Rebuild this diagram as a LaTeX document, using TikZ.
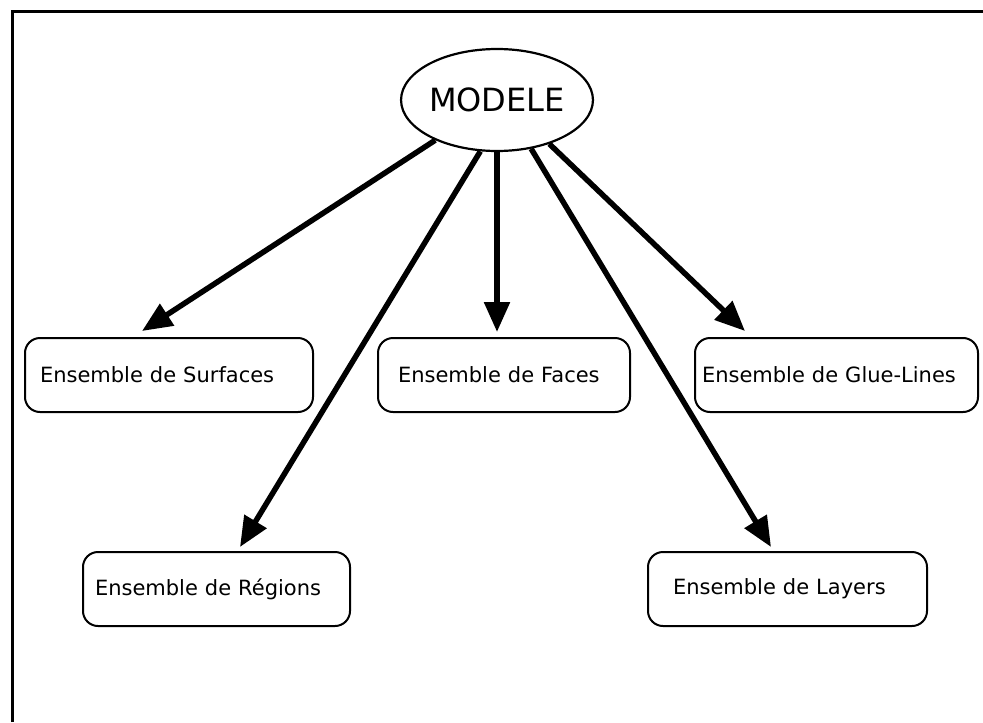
\documentclass[tikz,border=0pt]{standalone}
\usepackage{fontspec}
\setmainfont{DejaVu Sans}
\usetikzlibrary{arrows.meta,positioning,shapes.geometric}

\begin{document}
\begin{tikzpicture}[
x=0.5pt, y=-0.5pt,
racine/.style={
ellipse,
draw,
line width=1.1pt,
inner sep=0pt,
minimum width=87.5pt,
minimum height=51pt,
font=\fontsize{16}{19}\selectfont
},
boite/.style={
rectangle,
draw,
rounded corners=7.5pt,
line width=1pt,
align=left,
minimum height=37pt,
font=\fontsize{10.5}{12}\selectfont
},
fleche/.style={-{Triangle[length=15pt,width=12.5pt]}, line width=2.75pt}
]
\useasboundingbox (0,0) rectangle (983,722);
\draw[line width=1.5pt] (12,722) -- (12,12) -- (983,12);

\node[racine] (modele) at (497,100) {MODELE};
\node[boite, inner xsep=7.5pt, text width=129pt] (surfaces) at (169,375) {Ensemble de Surfaces};
\node[boite, inner xsep=10pt, text width=106pt] (faces) at (504,375) {Ensemble de Faces};
\node[boite, inner xsep=3.5pt, text width=134.5pt] (glue) at (836.5,375) {Ensemble de Glue-Lines};
\node[boite, inner xsep=6pt, text width=121.5pt] (regions) at (216.5,589) {Ensemble de Régions};
\node[boite, inner xsep=12.5pt, text width=114.5pt] (layers) at (787.5,589) {Ensemble de Layers};

\draw[fleche] (modele) -- ([xshift=-13.5pt, yshift=3pt]surfaces.north);
\draw[fleche] (modele.-108) -- ([xshift=11.75pt, yshift=2pt]regions.north);
\draw[fleche] (modele) -- ([xshift=-3.5pt, yshift=2.5pt]faces.north);
\draw[fleche] (modele.-55) -- ([xshift=-8.25pt, yshift=2pt]layers.north);
\draw[fleche] (modele.-40) -- ([xshift=-45.75pt, yshift=3pt]glue.north);
\end{tikzpicture}
\end{document}
